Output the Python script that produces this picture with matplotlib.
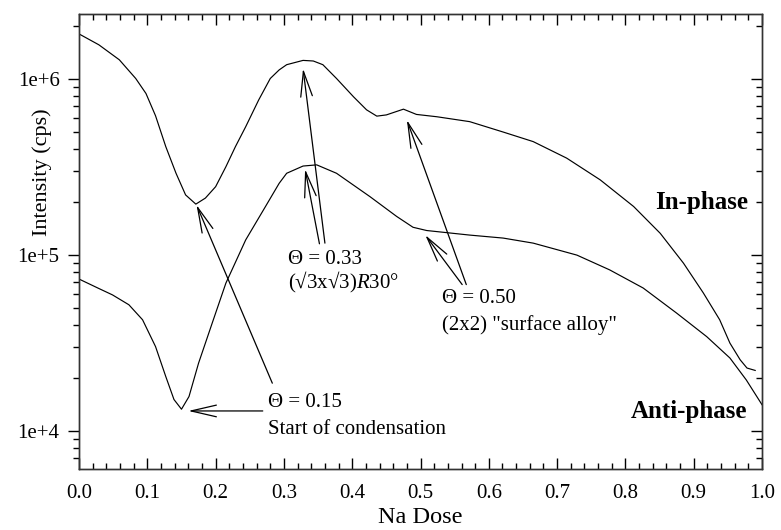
import matplotlib
matplotlib.use("Agg")
import matplotlib.pyplot as plt
from matplotlib.ticker import LogLocator, MultipleLocator, FixedLocator, FixedFormatter

plt.rcParams['font.family'] = ['Liberation Serif', 'DejaVu Serif']
plt.rcParams['mathtext.fontset'] = 'custom'
plt.rcParams['mathtext.rm'] = 'Liberation Serif'
plt.rcParams['mathtext.it'] = 'Liberation Serif:italic'
plt.rcParams['font.size'] = 15

# in-phase curve
in_phase_dose = [0.000, 0.029, 0.059, 0.083, 0.098, 0.112, 0.127, 0.142, 0.156, 0.171,
                 0.185, 0.200, 0.215, 0.229, 0.244, 0.263, 0.280, 0.293, 0.304, 0.328,
                 0.343, 0.357, 0.377, 0.402, 0.421, 0.436, 0.450, 0.475, 0.494, 0.524,
                 0.572, 0.621, 0.665, 0.714, 0.763, 0.812, 0.851, 0.885, 0.914, 0.938,
                 0.953, 0.968, 0.978, 0.990]
in_phase_cps = [1.81e6, 1.57e6, 1.29e6, 1.01e6, 8.3e5, 6.2e5, 4.14e5, 2.92e5, 2.20e5, 1.95e5,
                2.11e5, 2.45e5, 3.18e5, 4.14e5, 5.37e5, 7.62e5, 1.01e6, 1.13e6, 1.21e6, 1.28e6,
                1.27e6, 1.21e6, 1.01e6, 7.94e5, 6.70e5, 6.17e5, 6.27e5, 6.76e5, 6.31e5, 6.12e5,
                5.74e5, 5.01e5, 4.42e5, 3.56e5, 2.68e5, 1.89e5, 1.33e5, 9.0e4, 6.1e4, 4.29e4,
                3.16e4, 2.54e4, 2.28e4, 2.21e4]

# anti-phase curve
anti_phase_dose = [0.000, 0.029, 0.049, 0.073, 0.093, 0.112, 0.127, 0.139, 0.150, 0.161,
                   0.175, 0.195, 0.215, 0.244, 0.273, 0.293, 0.304, 0.328, 0.348, 0.377,
                   0.426, 0.465, 0.489, 0.509, 0.572, 0.621, 0.665, 0.729, 0.777, 0.826,
                   0.875, 0.919, 0.953, 0.977, 1.000]
anti_phase_cps = [7.31e4, 6.46e4, 5.94e4, 5.22e4, 4.29e4, 3.02e4, 2.04e4, 1.51e4, 1.33e4, 1.57e4,
                  2.43e4, 4.11e4, 6.93e4, 1.22e5, 1.89e5, 2.56e5, 2.92e5, 3.21e5, 3.26e5, 2.92e5,
                  2.15e5, 1.66e5, 1.44e5, 1.38e5, 1.30e5, 1.25e5, 1.17e5, 1.00e5, 8.24e4, 6.5e4,
                  4.68e4, 3.44e4, 2.60e4, 1.95e4, 1.41e4]

x_ticks = [0.0, 0.1, 0.2, 0.3, 0.4, 0.5, 0.6, 0.7, 0.8, 0.9, 1.0]
y_ticks = [1e4, 1e5, 1e6]
y_tick_labels = ["1e+4", "1e+5", "1e+6"]

# text labels: (first line, second line, x, y of first line, y of second line)
notes = [
    ("\u0398 = 0.15", "Start of condensation", 0.277, 1.45e4, 1.02e4),
    ("\u0398 = 0.33", "(\u221a3x\u221a3)$R$30\u00b0", 0.306, 9.5e4, 6.97e4),
    ("\u0398 = 0.50", "(2x2) \"surface alloy\"", 0.531, 5.65e4, 4.02e4),
]
# arrows: (tail, tip)
arrows = [
    ((0.269, 1.30e4), (0.160, 1.30e4)),
    ((0.283, 1.87e4), (0.172, 1.93e5)),
    ((0.360, 1.17e5), (0.328, 1.15e6)),
    ((0.352, 1.16e5), (0.331, 3.08e5)),
    ((0.567, 6.8e4), (0.480, 5.87e5)),
    ((0.561, 6.8e4), (0.507, 1.30e5)),
]

fig = plt.figure(figsize=(7.81, 5.30), dpi=100)
ax = fig.add_axes([0.1012, 0.1151, 0.8745, 0.8585])

ax.plot(in_phase_dose, in_phase_cps, color='black', lw=0.85)
ax.plot(anti_phase_dose, anti_phase_cps, color='black', lw=0.85)

ax.set_yscale('log')
ax.set_xlim(0.0, 1.0)
ax.set_ylim(6.08e3, 2.35e6)

ax.xaxis.set_major_locator(FixedLocator(x_ticks))
ax.xaxis.set_minor_locator(MultipleLocator(0.02))
ax.set_xticklabels(["%.1f" % v for v in x_ticks])
ax.yaxis.set_major_locator(FixedLocator(y_ticks))
ax.yaxis.set_major_formatter(FixedFormatter(y_tick_labels))
ax.yaxis.set_minor_locator(LogLocator(base=10, subs=range(2, 10)))
ax.yaxis.set_minor_formatter(FixedFormatter([]))

ax.tick_params(axis='x', which='both', direction='in', top=True, bottom=True, pad=11)
ax.tick_params(axis='x', which='major', length=8, width=1)
ax.tick_params(axis='x', which='minor', length=4, width=1)
ax.tick_params(axis='y', which='both', direction='out', left=True, right=False, pad=6)
ax.tick_params(axis='y', which='major', length=8, width=1)
ax.tick_params(axis='y', which='minor', length=4, width=1)

ax2 = ax.twinx()
ax2.set_yscale('log')
ax2.set_ylim(ax.get_ylim())
ax2.yaxis.set_major_locator(FixedLocator(y_ticks))
ax2.yaxis.set_minor_locator(LogLocator(base=10, subs=range(2, 10)))
ax2.tick_params(axis='y', which='both', direction='in', labelright=False)
ax2.tick_params(axis='y', which='major', length=8, width=1)
ax2.tick_params(axis='y', which='minor', length=4, width=1)

for a in (ax, ax2):
    for s in a.spines.values():
        s.set_linewidth(1.0)
        s.set_color('#333333')

ax.set_xlabel("Na Dose", fontsize=17.5, labelpad=3)
ax.set_ylabel("Intensity (cps)", fontsize=16)
ax.yaxis.set_label_coords(-0.040, 0.653)

for line1, line2, x, y1, y2 in notes:
    ax.text(x, y1, line1, ha='left', va='center')
    ax.text(x, y2, line2, ha='left', va='center')

for tail, tip in arrows:
    ax.annotate("", xy=tip, xytext=tail,
                arrowprops=dict(arrowstyle="->,head_length=1.3,head_width=0.3",
                                mutation_scale=14, lw=0.9, color='black',
                                shrinkA=0, shrinkB=0))

ax.text(0.98, 2.0e5, "In-phase", ha='right', va='center', fontweight='bold', fontsize=18)
ax.text(0.978, 1.29e4, "Anti-phase", ha='right', va='center', fontweight='bold', fontsize=18)

fig.savefig("out.png", dpi=100)
